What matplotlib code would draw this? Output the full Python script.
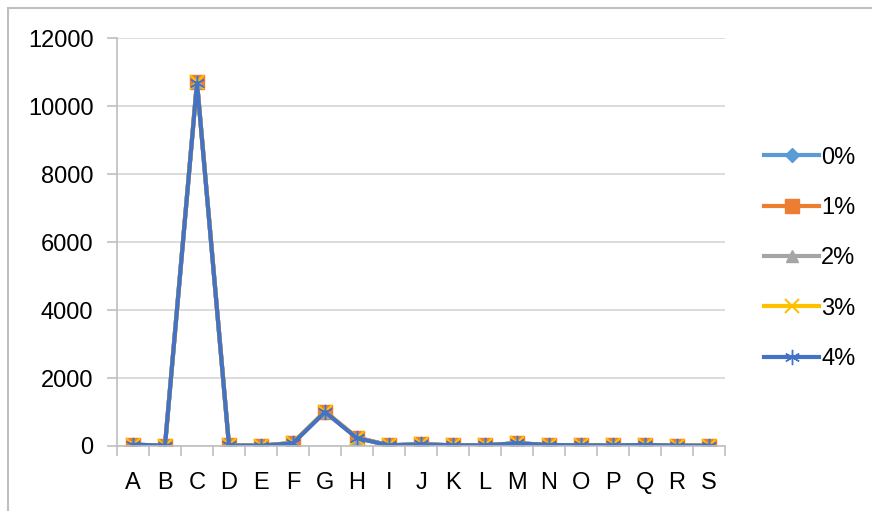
import matplotlib
matplotlib.use("Agg")
import matplotlib.pyplot as plt
from matplotlib.patches import Rectangle

categories = list("ABCDEFGHIJKLMNOPQRS")
s0 = [40, 10, 10700, 15, 10, 90, 1010, 240, 20, 50, 20, 20, 80, 30, 20, 15, 30, 10, 10]
s1 = [40, 10, 10700, 15, 10, 90, 1010, 250, 20, 50, 20, 20, 80, 30, 20, 15, 30, 10, 10]
s2 = [40, 10, 10700, 15, 10, 90, 1010, 240, 20, 50, 20, 20, 80, 30, 20, 15, 30, 10, 10]
s3 = [40, 10, 10700, 15, 10, 90, 1010, 240, 20, 50, 20, 20, 80, 30, 20, 15, 30, 10, 10]
s4 = [40, 10, 10680, 15, 10, 80, 1000, 230, 20, 50, 20, 20, 80, 30, 20, 15, 30, 10, 10]
series_names = ["0%", "1%", "2%", "3%", "4%"]

plt.rcParams["font.family"] = ["Liberation Sans", "DejaVu Sans"]

fig = plt.figure(figsize=(8.72, 5.11), dpi=100)
ax = fig.add_axes([117 / 872, 1 - 446 / 511, 608 / 872, 408 / 511])

# outer chart frame (only top/left visible in the reference)
fig.patches.append(Rectangle((8 / 872, -0.1), 1.2, 1.1 - 8 / 511, transform=fig.transFigure,
                             fill=False, edgecolor="#BFBFBF", linewidth=1.5))

x = list(range(len(categories)))
styles = [
    dict(color="#5B9BD5", marker="D", markersize=7),
    dict(color="#ED7D31", marker="s", markersize=10),
    dict(color="#A5A5A5", marker="^", markersize=9),
    dict(color="#FFC000", marker="x", markersize=10, markeredgewidth=1.5),
    dict(color="#4472C4", marker=(6, 2, 0), markersize=11, markeredgewidth=1.0),
]
for vals, name, st in zip([s0, s1, s2, s3, s4], series_names, styles):
    ax.plot(x, vals, linewidth=3, label=name, **st)

ax.set_xlim(-0.5, len(categories) - 0.5)
ax.set_ylim(0, 12000)
ax.set_yticks(range(0, 12001, 2000))
ax.set_xticks(x)
ax.set_xticklabels(categories)
ax.set_xticks([i + 0.5 for i in range(-1, len(categories))], minor=True)
ax.tick_params(axis="x", which="major", length=0, pad=19, labelsize=17)
ax.tick_params(axis="x", which="minor", length=7, color="#BFBFBF", width=1.2)
ax.tick_params(axis="y", length=7, color="#BFBFBF", width=1.2, pad=10, labelsize=17)
ax.grid(axis="y", color="#D9D9D9", linewidth=1.3)
ax.set_axisbelow(True)
for side in ["top", "right"]:
    ax.spines[side].set_visible(False)
for side in ["left", "bottom"]:
    ax.spines[side].set_color("#BFBFBF")
    ax.spines[side].set_linewidth(1.2)

ax.legend(loc="center left", bbox_to_anchor=(1.03, 0.46), frameon=False, fontsize=17,
          labelspacing=1.2, handlelength=2.3, handletextpad=0.1)

fig.savefig("out.png", dpi=100)
